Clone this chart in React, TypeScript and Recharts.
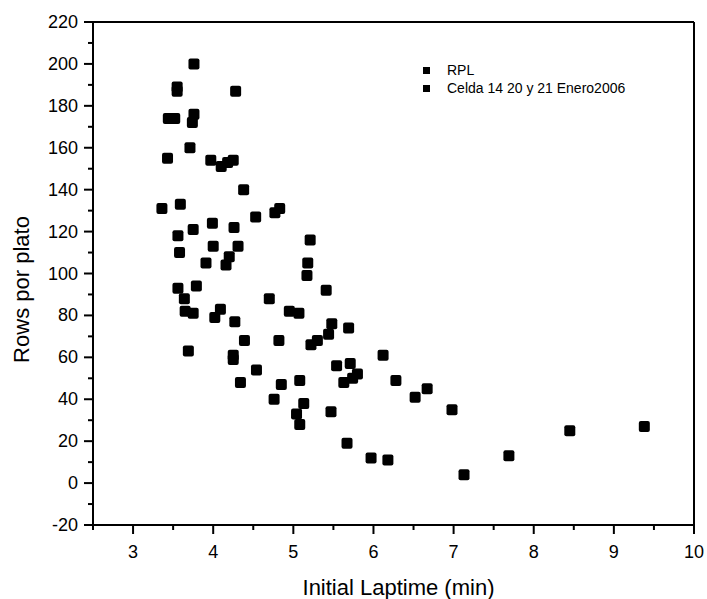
import React from "react";
import {
  ScatterChart,
  Scatter,
  XAxis,
  YAxis,
  Legend,
  ReferenceLine,
} from "recharts";

// values
const rplX = [
  3.76, 3.55, 3.55, 4.28, 3.44, 3.52, 3.76, 3.74, 3.71, 3.43, 3.97, 4.1, 4.18,
  4.25, 4.38, 3.36, 3.59, 4.53, 4.77, 4.83, 3.99, 3.75, 4.26, 3.56, 5.21, 3.58,
  4.0, 4.31, 4.2, 3.91, 4.16, 5.18, 5.17, 3.56, 3.79, 3.64, 4.7, 5.41, 3.65,
  3.75,
];
const rplY = [
  200, 189, 187, 187, 174, 174, 176, 172, 160, 155, 154, 151, 153, 154, 140,
  131, 133, 127, 129, 131, 124, 121, 122, 118, 116, 110, 113, 113, 108, 105,
  104, 105, 99, 93, 94, 88, 88, 92, 82, 81,
];
const celdaX = [
  4.02, 4.09, 4.95, 5.07, 4.27, 5.48, 5.44, 4.39, 4.82, 5.22, 5.3, 3.69, 4.25,
  4.25, 5.54, 4.54, 4.34, 4.85, 5.08, 4.76, 5.13, 5.04, 5.08, 5.47, 5.69, 6.12,
  5.71, 5.63, 5.74, 5.8, 6.28, 6.52, 6.67, 6.98, 8.45, 9.38, 5.67, 5.97, 6.18,
  7.69, 7.13,
];
const celdaY = [
  79, 83, 82, 81, 77, 76, 71, 68, 68, 66, 68, 63, 61, 59, 56, 54, 48, 47, 49,
  40, 38, 33, 28, 34, 74, 61, 57, 48, 50, 52, 49, 41, 45, 35, 25, 27, 19, 12,
  11, 13, 4,
];

const seriesNames = ["RPL", "Celda 14 20 y 21 Enero2006"];

const xTicks = [2.5, 3, 3.5, 4, 4.5, 5, 5.5, 6, 6.5, 7, 7.5, 8, 8.5, 9, 9.5, 10];
const yTicks = [
  -20, -10, 0, 10, 20, 30, 40, 50, 60, 70, 80, 90, 100, 110, 120, 130, 140,
  150, 160, 170, 180, 190, 200, 210, 220,
];

const rplData = rplX.map((x, i) => ({ x, y: rplY[i] }));
const celdaData = celdaX.map((x, i) => ({ x, y: celdaY[i] }));

const FONT = "'Liberation Sans', Arial, sans-serif";

const SquareDot = (props: any) => {
  const { cx, cy } = props;
  if (cx == null || cy == null) return null;
  return <rect x={cx - 5.5} y={cy - 5.5} width={11} height={11} rx={2} fill="#000" />;
};

const XTick = (props: any) => {
  const { x, y, payload } = props;
  const v = payload.value;
  const major = Number.isInteger(v);
  return (
    <g>
      <line x1={x} x2={x} y1={y} y2={y + (major ? 9 : 5)} stroke="#000" strokeWidth={2} />
      {major && (
        <text x={x} y={y + 27} textAnchor="middle" dominantBaseline="central" fontSize={18} fill="#000" fontFamily={FONT}>
          {v}
        </text>
      )}
    </g>
  );
};

const YTick = (props: any) => {
  const { x, y, payload } = props;
  const v = payload.value;
  const major = v % 20 === 0;
  return (
    <g>
      <line x1={x - (major ? 9 : 5)} x2={x} y1={y} y2={y} stroke="#000" strokeWidth={2} />
      {major && (
        <text x={x - 15} y={y} textAnchor="end" dominantBaseline="central" fontSize={18} fill="#000" fontFamily={FONT}>
          {v}
        </text>
      )}
    </g>
  );
};

const LegendBox = () => (
  <div style={{ fontFamily: FONT, fontSize: 14, color: "#000" }}>
    {seriesNames.map((n) => (
      <div key={n} style={{ display: "flex", alignItems: "center", height: 18 }}>
        <span style={{ width: 7, height: 7, background: "#000", display: "inline-block" }} />
        <span style={{ marginLeft: 17, whiteSpace: "nowrap" }}>{n}</span>
      </div>
    ))}
  </div>
);

export default function App() {
  return (
    <div style={{ position: "fixed", left: 0, top: 0, fontFamily: FONT, background: "#fff" }}>
      <ScatterChart width={707} height={599} margin={{ top: 22, right: 13, bottom: 34, left: 8 }}>
        <XAxis
          type="number"
          dataKey="x"
          domain={[2.5, 10]}
          ticks={xTicks}
          interval={0}
          tickSize={0}
          tickMargin={0}
          tickLine={false}
          tick={<XTick />}
          height={40}
          allowDataOverflow
          axisLine={{ stroke: "#000", strokeWidth: 2 }}
          label={{
            content: (p: any) => (
              <text
                x={p.viewBox.x + p.viewBox.width / 2 + 5}
                y={p.viewBox.y + 62}
                textAnchor="middle"
                dominantBaseline="central"
                fontSize={22}
                fontFamily={FONT}
                fill="#000"
              >
                Initial Laptime (min)
              </text>
            ),
          }}
        />
        <YAxis
          type="number"
          dataKey="y"
          domain={[-20, 220]}
          ticks={yTicks}
          interval={0}
          tickSize={0}
          tickMargin={0}
          tickLine={false}
          tick={<YTick />}
          width={85}
          allowDataOverflow
          axisLine={{ stroke: "#000", strokeWidth: 2 }}
          label={{
            content: (p: any) => {
              const cx = p.viewBox.x + 13;
              const cy = p.viewBox.y + p.viewBox.height / 2 + 16;
              return (
                <text
                  x={cx}
                  y={cy}
                  transform={`rotate(-90, ${cx}, ${cy})`}
                  textAnchor="middle"
                  dominantBaseline="central"
                  fontSize={22}
                  fontFamily={FONT}
                  fill="#000"
                >
                  Rows por plato
                </text>
              );
            },
          }}
        />
        <ReferenceLine y={220} stroke="#000" strokeWidth={2} />
        <ReferenceLine x={10} stroke="#000" strokeWidth={2} />
        <Legend
          layout="vertical"
          align="center"
          verticalAlign="middle"
          content={<LegendBox />}
          wrapperStyle={{ left: 423, top: 61, width: 260 }}
        />
        <Scatter name={seriesNames[0]} data={rplData} fill="#000" shape={<SquareDot />} isAnimationActive={false} />
        <Scatter name={seriesNames[1]} data={celdaData} fill="#000" shape={<SquareDot />} isAnimationActive={false} />
      </ScatterChart>
    </div>
  );
}
